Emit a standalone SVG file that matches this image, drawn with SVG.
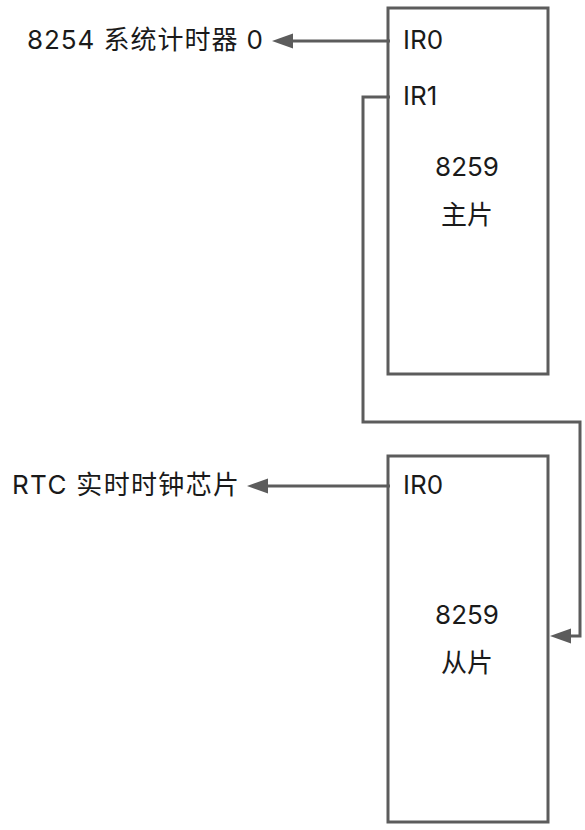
<svg xmlns="http://www.w3.org/2000/svg" width="585" height="830" viewBox="0 0 585 830">
<style>
.box{fill:#fff;stroke:#5c5c5c;stroke-width:3}
.ln{fill:none;stroke:#5c5c5c;stroke-width:3}
.ah{fill:#5c5c5c}
text{font-family:Inter,"Noto Sans CJK SC","Noto Sans",sans-serif;font-size:26px;fill:#1a1a1a}
.c{text-anchor:middle}
</style>
<rect width="585" height="830" fill="#fff"/>
<g id="master">
<rect class="box" x="388" y="8" width="160" height="366"/>
<text x="403" y="49">IR0</text>
<text x="403" y="105">IR1</text>
<text class="c" x="467" y="176">8259</text>
<text class="c" x="467" y="224">主片</text>
</g>
<g id="slave">
<rect class="box" x="388" y="456" width="160" height="366"/>
<text x="403" y="494">IR0</text>
<text class="c" x="467" y="624">8259</text>
<text class="c" x="467" y="672">从片</text>
</g>
<g id="timer"><text x="27" y="49" textLength="236" lengthAdjust="spacing">8254 系统计时器 0</text></g>
<g id="rtc"><text x="12" y="494" textLength="227" lengthAdjust="spacing">RTC 实时时钟芯片</text></g>
<g id="connectors">
<path class="ln" d="M390 41H290"/>
<path class="ah" d="M272 41L293 33.5V48.5Z"/>
<path class="ln" d="M390 486H265"/>
<path class="ah" d="M247 486L268 478.5V493.5Z"/>
<path class="ln" d="M390 97H363V422H580V636H568"/>
<path class="ah" d="M550 636L571 628.5V643.5Z"/>
</g>
</svg>
